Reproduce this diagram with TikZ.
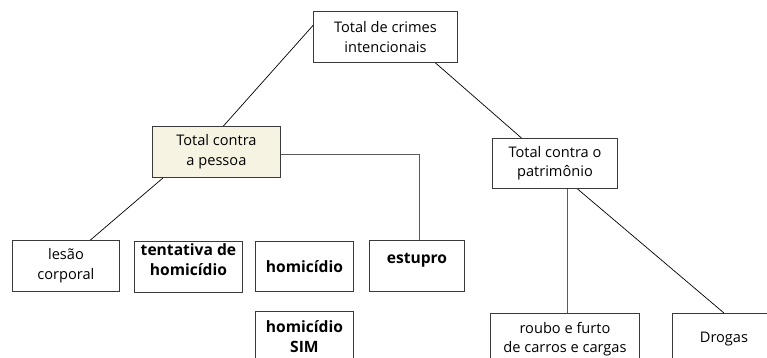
\documentclass[tikz,border=0pt]{standalone}
\usepackage{fontspec}
\setmainfont{Open Sans}
\usetikzlibrary{calc}
\definecolor{boxline}{HTML}{3A3A3A}
\definecolor{conn}{HTML}{5A5A5A}
\definecolor{beige}{HTML}{F6F3E2}
\begin{document}
\begin{tikzpicture}[x=1pt,y=-1pt,
  box/.style={draw=boxline, line width=0.9pt, fill=white, align=center, anchor=north west,
    inner sep=0pt, font=\fontsize{14.6}{19.5}\selectfont, text=black},
  bbox/.style={box, font=\fontsize{15.6}{20}\selectfont\bfseries},
  diag/.style={draw=black, line width=0.7pt},
  ortho/.style={draw=conn, line width=1.3pt}]
\useasboundingbox (0,0) rectangle (767,358);
\clip (0,0) rectangle (767,358);
% nodes
\node[box, minimum width=144pt, minimum height=51pt] (top) at (313,11) {Total de crimes\\intencionais};
\node[box, fill=beige, minimum width=128pt, minimum height=51pt] (pessoa) at (152,126) {Total contra\\a pessoa};
\node[box, minimum width=125pt, minimum height=50pt] (patr) at (492,138) {Total contra o\\patrimônio};
\node[box, minimum width=107pt, minimum height=51pt] (lesao) at (12,240) {lesão\\corporal};
\node[bbox, minimum width=108pt, minimum height=51pt] (tent) at (134,241) {tentativa de\\homicídio\\[-5pt]};
\node[bbox, minimum width=98pt, minimum height=50pt] (homi) at (255,241) {homicídio};
\node[bbox, minimum width=95pt, minimum height=51pt] (estu) at (369,240) {estupro\\[-4pt]};
\node[bbox, minimum width=98pt, minimum height=51pt] (sim) at (255,311) {homicídio\\SIM};
\node[box, minimum width=149pt, minimum height=51pt] (roubo) at (490,313) {roubo e furto\\de carros e cargas};
\node[box, minimum width=103pt, minimum height=51pt] (drog) at (672,313) {Drogas};
% connectors
\draw[diag] ([yshift=11.5pt]top.west) -- ([xshift=7pt]pessoa.north);
\draw[diag] ([xshift=50pt]top.south) -- ([xshift=-33.5pt]patr.north);
\draw[diag] ([xshift=11pt]pessoa.south west) -- ([xshift=24.5pt]lesao.north);
\draw[ortho] ([yshift=-2.5pt]pessoa.east) -| ([xshift=2.5pt]estu.north);
\draw[ortho] ([xshift=2.5pt]roubo.north |- patr.south) -- ([xshift=2.5pt]roubo.north);
\draw[diag] ([xshift=22.5pt]patr.south) -- (drog.north);
\end{tikzpicture}
\end{document}
